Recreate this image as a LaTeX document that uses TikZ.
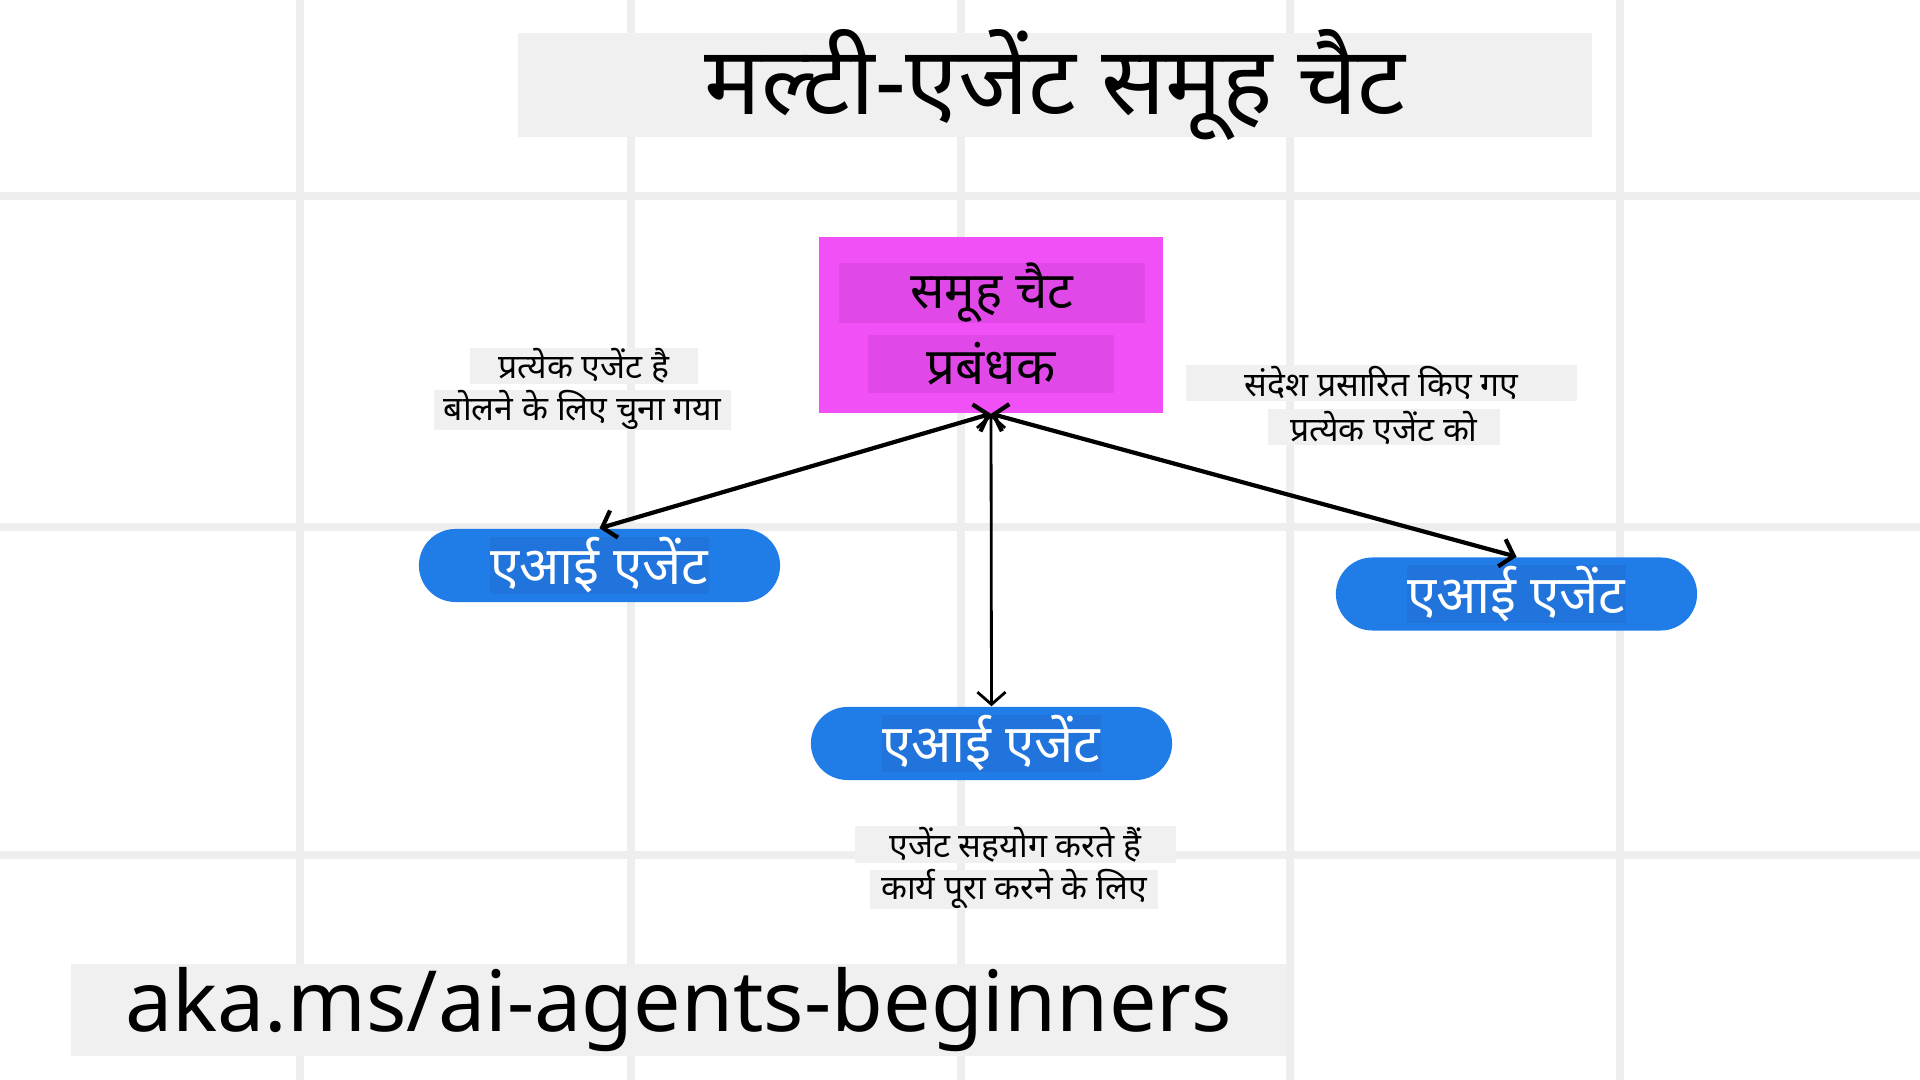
\documentclass[tikz,border=0pt]{standalone}
\usepackage{fontspec}
\setmainfont{Noto Sans}
\newfontfamily\deva[Script=Devanagari]{Noto Sans}
\usetikzlibrary{arrows.meta}

\definecolor{gridgray}{HTML}{EEEEEE}
\definecolor{boxgray}{HTML}{F0F0F0}
\definecolor{mgrpink}{HTML}{F050F5}
\definecolor{mgrinner}{HTML}{E048E8}
\definecolor{agentblue}{HTML}{207CE6}
\definecolor{agentinner}{HTML}{2074DC}

\tikzset{
  gridline/.style={draw=gridgray, line width=0.08cm},
  note/.style={fill=boxgray, inner sep=0pt, minimum height=0.36cm, font=\deva\fontsize{9.6}{11}\selectfont},
  agent/.style={fill=agentblue, rounded corners=0.365cm, minimum width=3.61cm, minimum height=0.73cm, inner sep=0pt},
  agenttext/.style={fill=agentinner, text=white, minimum width=2.19cm, minimum height=0.57cm, inner sep=0pt, font=\deva\fontsize{15}{18}\selectfont},
  mgrtext/.style={fill=mgrinner, minimum height=0.58cm, inner sep=0pt, font=\deva\fontsize{14.5}{17}\selectfont},
  link/.style={{Straight Barb[length=3.5pt,width=8pt]}-{Straight Barb[length=3.5pt,width=8pt]}, line width=1.2pt},
}

\begin{document}
\begin{tikzpicture}[x=0.01cm, y=-0.01cm]
    % Canvas
    \fill[white] (0,0) rectangle (1920,1080);
    \useasboundingbox (0,0) rectangle (1920,1080);

    % Grid
    \foreach \x in {300,631,961,1290,1620}
      \draw[gridline] (\x,0) -- (\x,1080);
    \foreach \y in {196,527,855}
      \draw[gridline] (0,\y) -- (1920,\y);

    % Title
    \fill[boxgray] (518,33) rectangle (1592,137);
    \node[inner sep=0pt, font=\deva\fontsize{27}{30}\selectfont] (title) at (1055,85) {मल्टी-एजेंट समूह चैट};

    % Group chat manager
    \node[fill=mgrpink, minimum width=3.44cm, minimum height=1.76cm] (mgr) at (991,325) {};
    \node[mgrtext, minimum width=3.06cm] (mgrA) at (992,293) {समूह चैट};
    \node[mgrtext, minimum width=2.46cm] (mgrB) at (991,364) {प्रबंधक};

    % Agents
    \node[agent] (agentL) at (599.5,565.5) {};
    \node[agenttext] (agentLtext) at (agentL) {एआई एजेंट};
    \node[agent] (agentC) at (991.5,743.5) {};
    \node[agenttext] (agentCtext) at (agentC) {एआई एजेंट};
    \node[agent] (agentR) at (1516.5,594) {};
    \node[agenttext] (agentRtext) at (agentR) {एआई एजेंट};

    % Links
    \draw[link] (mgr.south) -- (agentL.north);
    \draw[link, line width=0.8pt] (mgr.south) -- (agentC.north);
    \draw[link] (mgr.south) -- (agentR.north);

    % Notes
    \node[note, minimum width=2.28cm] (noteL1) at (584,366) {प्रत्येक एजेंट है};
    \node[note, minimum width=2.97cm] (noteL2) at (582.5,410) {बोलने के लिए चुना गया};
    \node[note, minimum width=3.91cm] (noteR1) at (1381.5,383) {संदेश प्रसारित किए गए};
    \node[note, minimum width=2.32cm] (noteR2) at (1384,427.5) {प्रत्येक एजेंट को};
    \node[note, minimum width=3.21cm] (noteB1) at (1015.5,844.5) {एजेंट सहयोग करते हैं};
    \node[note, minimum width=2.88cm] (noteB2) at (1014,889.5) {कार्य पूरा करने के लिए};

    % Link
    \node[fill=boxgray, inner sep=0pt, minimum width=12.15cm, minimum height=0.92cm, font=\fontsize{24}{28}\selectfont] (url) at (678.5,1010) {aka.ms/ai-agents-beginners};
\end{tikzpicture}
\end{document}
